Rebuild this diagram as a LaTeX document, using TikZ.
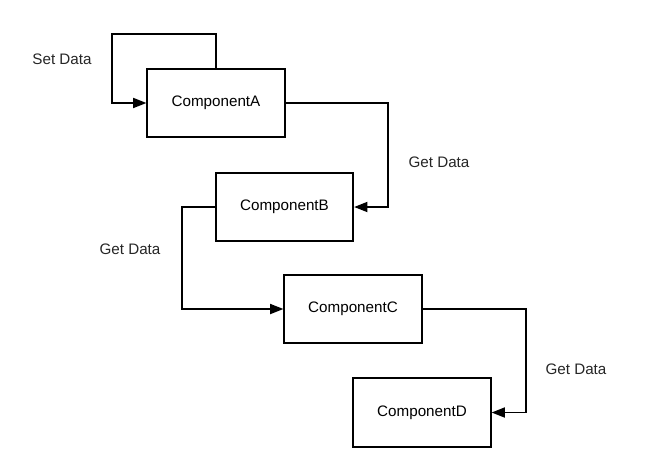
\documentclass[tikz,border=0pt]{standalone}
\usepackage{fontspec}
\setmainfont{Liberation Sans}
\usetikzlibrary{arrows.meta,positioning,calc}

\begin{document}
\begin{tikzpicture}[
    x=0.75pt, y=-0.75pt,
    % Node styles
    component/.style={rectangle, draw=black, line width=1.4pt, fill=white,
                      minimum width=103pt, minimum height=51.5pt,
                      inner sep=0pt, font=\fontsize{11.4}{13}\selectfont},
    label/.style={font=\fontsize{11.4}{13}\selectfont, text=black!85},
    arrow/.style={line width=1.4pt, -{Triangle[length=10pt, width=7.5pt]}, black}
]

% white page with margins
\useasboundingbox[fill=white] (0,0) rectangle (663,474);

% 1. Components (stepping down to the right)
\node[component] (compA) at (216,103) {ComponentA};
\node[component] (compB) at (284.5,207) {ComponentB};
\node[component] (compC) at (353,309) {ComponentC};
\node[component] (compD) at (422,412.5) {ComponentD};

% 2. Bend points of the connectors
\coordinate (loopA) at (112,34);
\coordinate (bendAB) at (388,103);
\coordinate (bendBC) at (182,207);
\coordinate (bendCD) at (526,309);

% 3. Labels
\node[label] (setdata) at (62,59) {Set Data};
\node[label] (getAB) at (439,162) {Get Data};
\node[label] (getBC) at (130,249) {Get Data};
\node[label] (getCD) at (576,369) {Get Data};

% Self loop on ComponentA
\draw[arrow] (compA.north) |- (loopA) |- (compA.west);

% Data flow between components
\draw[arrow] (compA.east) -- (bendAB) |- (compB.east);
\draw[arrow] (compB.west) -- (bendBC) |- (compC.west);
\draw[arrow] (compC.east) -- (bendCD) |- (compD.east);

\end{tikzpicture}
\end{document}
